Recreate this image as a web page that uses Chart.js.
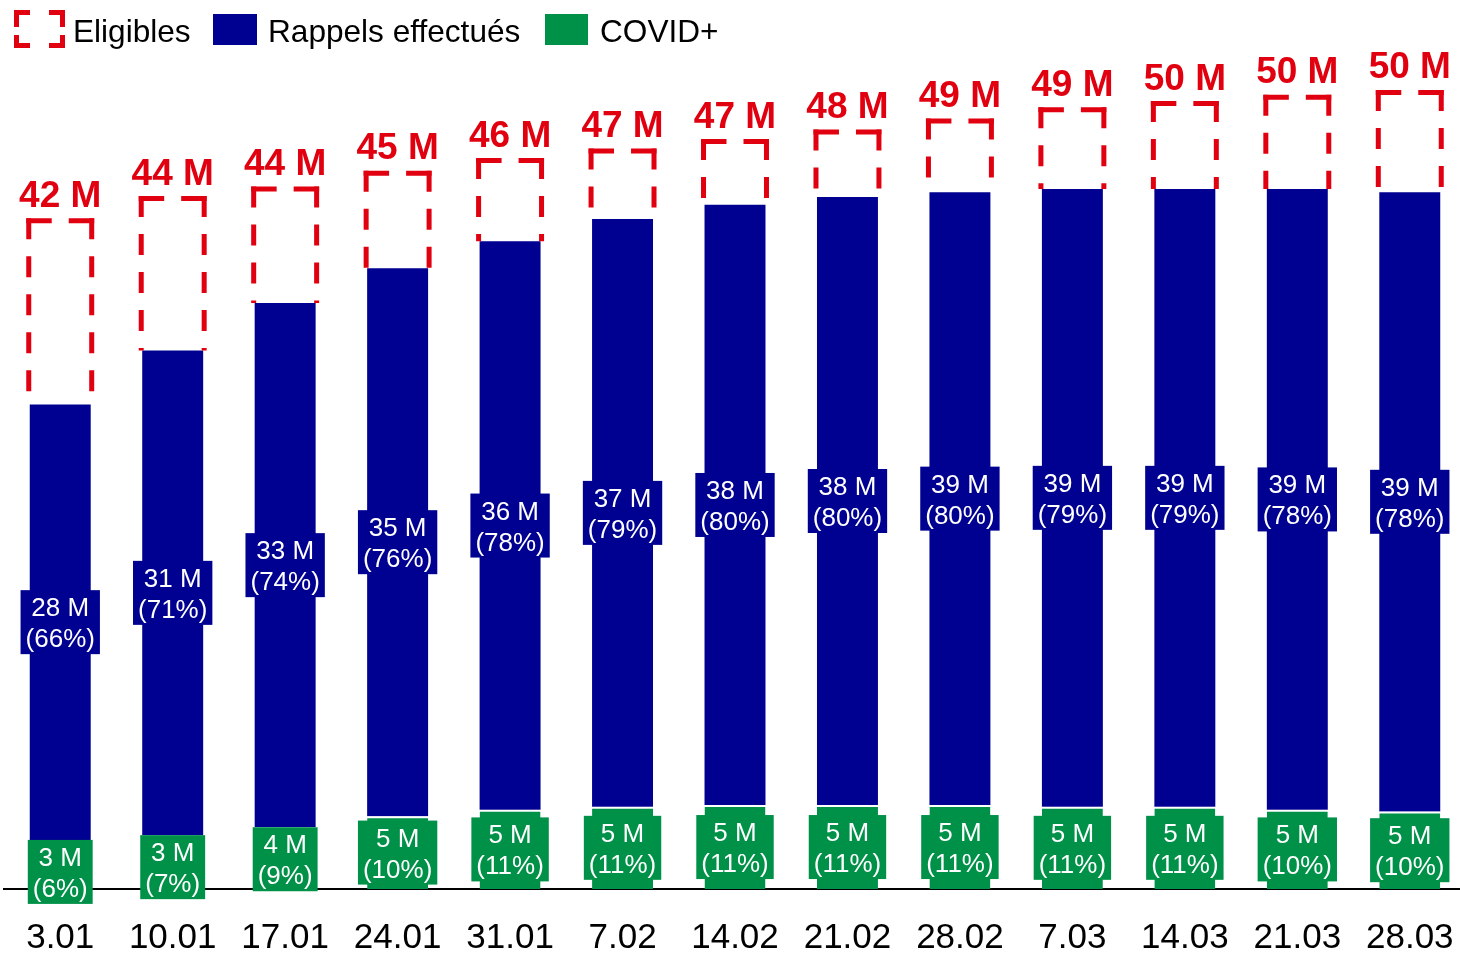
<!DOCTYPE html>
<html>
<head>
<meta charset="utf-8">
<script src="https://cdn.jsdelivr.net/npm/chart.js@4"></script>
<style>
html, body { margin: 0; padding: 0; background: #fff; overflow: hidden; }
#wrap { width: 1460px; height: 955px; overflow: hidden; }
</style>
</head>
<body>
<div id="wrap"><canvas id="rappelChart" width="1466" height="955"></canvas></div>
<script>
const weekLabels = ['3.01', '10.01', '17.01', '24.01', '31.01', '7.02', '14.02', '21.02', '28.02', '7.03', '14.03', '21.03', '28.03'];
// millions
const eligibles = [42.2, 43.6, 44.2, 45.2, 46.0, 46.6, 47.2, 47.8, 48.5, 49.2, 49.6, 50.0, 50.3];
const rappels = [27.5, 30.6, 33.1, 34.6, 35.9, 37.1, 37.9, 38.4, 38.7, 39.0, 39.0, 39.2, 39.1];
const covidPos = [3.1, 3.4, 3.9, 4.6, 5.0, 5.2, 5.3, 5.3, 5.3, 5.2, 5.2, 5.0, 4.9];
// shares shown in the labels (% of eligibles)
const rappelsPct = [66, 71, 74, 76, 78, 79, 80, 80, 80, 79, 79, 78, 78];
const covidPct = [6, 7, 9, 10, 11, 11, 11, 11, 11, 11, 11, 10, 10];

const NAVY = '#000091';
const GREEN = '#009148';
const RED = '#E1000F';
const FONT = '"Liberation Sans", Arial, sans-serif';

const notYet = eligibles.map((e, i) => e - rappels[i] - covidPos[i]);

function drawTag(ctx, x, c, lines, color) {
    ctx.font = '26px ' + FONT;
    const w = Math.max(...lines.map(t => ctx.measureText(t).width)) + 10;
    ctx.fillStyle = color;
    ctx.fillRect(x - w / 2, c - 32, w, 64);
    ctx.fillStyle = '#fff';
    ctx.textAlign = 'center';
    ctx.textBaseline = 'alphabetic';
    ctx.fillText(lines[0], x, c - 6);
    ctx.fillText(lines[1], x, c + 25);
}

const barLabels = {
    id: 'barLabels',
    afterDatasetsDraw(chart) {
        const ctx = chart.ctx;
        ctx.save();

        // dashed "eligibles" boxes + totals on top
        const elig = chart.getDatasetMeta(2);
        elig.data.forEach((bar, i) => {
            const l = bar.x - bar.width / 2 - 1;
            const r = bar.x + bar.width / 2 + 1;
            const top = bar.y;
            const w = r - l + 5;
            ctx.strokeStyle = RED;
            ctx.lineWidth = 5;
            ctx.lineCap = 'butt';
            ctx.setLineDash([(w - 17) / 2, 17]);
            ctx.beginPath();
            ctx.moveTo(l - 2.5, top);
            ctx.lineTo(r + 2.5, top);
            ctx.stroke();
            ctx.setLineDash([21, 17]);
            [l, r].forEach(x => {
                ctx.beginPath();
                ctx.moveTo(x, top - 2.5);
                ctx.lineTo(x, bar.base);
                ctx.stroke();
            });
            ctx.setLineDash([]);
            ctx.fillStyle = RED;
            ctx.font = 'bold 37px ' + FONT;
            ctx.textAlign = 'center';
            ctx.textBaseline = 'alphabetic';
            ctx.fillText(Math.round(eligibles[i]) + ' M', bar.x, top - 14);
        });

        const rap = chart.getDatasetMeta(1);
        rap.data.forEach((bar, i) => {
            const c = (bar.y + bar.base) / 2;
            drawTag(ctx, bar.x, c, [Math.round(rappels[i]) + ' M', '(' + rappelsPct[i] + '%)'], NAVY);
        });

        const cov = chart.getDatasetMeta(0);
        cov.data.forEach((bar, i) => {
            const c = Math.max((bar.y + bar.base) / 2, bar.y + 32);
            drawTag(ctx, bar.x, c, [Math.round(covidPos[i]) + ' M', '(' + covidPct[i] + '%)'], GREEN);
        });
        ctx.restore();
    }
};

const topLegend = {
    id: 'topLegend',
    afterDraw(chart) {
        const ctx = chart.ctx;
        ctx.save();
        ctx.strokeStyle = RED;
        ctx.lineWidth = 5;
        ctx.setLineDash([16, 19]);
        [12.5, 45.5].forEach(y => {
            ctx.beginPath(); ctx.moveTo(14, y); ctx.lineTo(65, y); ctx.stroke();
        });
        ctx.setLineDash([17, 8]);
        [16.5, 62.5].forEach(x => {
            ctx.beginPath(); ctx.moveTo(x, 10); ctx.lineTo(x, 48); ctx.stroke();
        });
        ctx.setLineDash([]);
        ctx.fillStyle = NAVY;
        ctx.fillRect(213, 14, 44, 31);
        ctx.fillStyle = GREEN;
        ctx.fillRect(545, 14, 43, 31);

        const ds = chart.data.datasets;
        ctx.fillStyle = '#000';
        ctx.font = '31.6px ' + FONT;
        ctx.textAlign = 'left';
        ctx.textBaseline = 'alphabetic';
        ctx.fillText(ds[2].label, 73, 42);
        ctx.fillText(ds[1].label, 268, 42);
        ctx.fillText(ds[0].label, 600, 42);
        ctx.restore();
    }
};

const ctx = document.getElementById('rappelChart').getContext('2d');
const rappelChart = new Chart(ctx, {
    type: 'bar',
    data: {
        labels: weekLabels,
        datasets: [{
            label: 'COVID+',
            data: covidPos,
            backgroundColor: GREEN,
            borderColor: '#fff',
            borderWidth: { top: 2, right: 0, bottom: 0, left: 0 },
            borderSkipped: 'start'
        },
        {
            label: 'Rappels effectués',
            data: rappels,
            backgroundColor: NAVY,
            borderWidth: 0
        },
        {
            label: 'Eligibles',
            data: notYet,
            backgroundColor: 'rgba(0,0,0,0)',
            borderWidth: 0
        }]
    },
    options: {
        responsive: false,
        animation: false,
        layout: {
            padding: { top: 18, left: 4, right: 0, bottom: 0 }
        },
        datasets: {
            bar: {
                barPercentage: 0.542,
                categoryPercentage: 1
            }
        },
        plugins: {
            legend: { display: false },
            tooltip: { enabled: false }
        },
        scales: {
            x: {
                stacked: true,
                grid: { display: false, drawTicks: false, tickLength: 0 },
                border: { display: true, color: '#000', width: 2 },
                ticks: {
                    color: '#000',
                    padding: 28,
                    font: { family: FONT, size: 35 }
                },
                afterFit(scale) {
                    scale.height = 66;
                    scale.paddingLeft = 0;
                    scale.paddingRight = 0;
                }
            },
            y: {
                stacked: true,
                display: false,
                min: 0,
                max: 55
            }
        }
    },
    plugins: [barLabels, topLegend]
});
</script>
</body>
</html>
